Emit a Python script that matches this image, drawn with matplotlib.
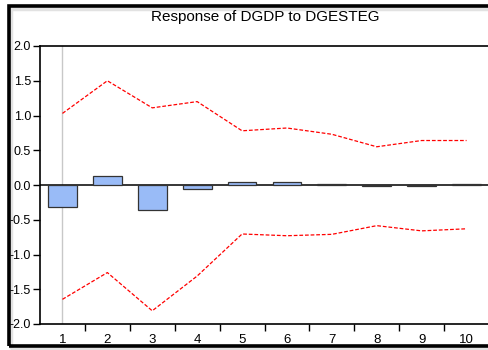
import numpy as np
import matplotlib.pyplot as plt
from matplotlib.patches import Rectangle

plt.rcParams['font.family'] = ['Liberation Sans', 'DejaVu Sans']

# impulse response of DGDP to a DGESTEG shock, with +/- 2 s.e. bands
periods = [1, 2, 3, 4, 5, 6, 7, 8, 9, 10]
response = [-0.31, 0.125, -0.355, -0.06, 0.04, 0.05, 0.012, -0.012, -0.008, 0.01]
upper = [1.03, 1.50, 1.11, 1.20, 0.78, 0.82, 0.73, 0.55, 0.64, 0.64]
lower = [-1.645, -1.26, -1.81, -1.31, -0.705, -0.73, -0.71, -0.585, -0.66, -0.63]
yticks = [-2.0, -1.5, -1.0, -0.5, 0.0, 0.5, 1.0, 1.5, 2.0]

fig = plt.figure(figsize=(4.89, 3.5), dpi=100)

# outer frame with a soft shadow
fig.patches.append(Rectangle((11 / 489, 1 - 349 / 350), 1.0, 340 / 350,
                             transform=fig.transFigure, facecolor='none',
                             edgecolor='#e2e2e2', linewidth=2.5, zorder=-2))
fig.patches.append(Rectangle((8.5 / 489, 1 - 345.5 / 350), 1.0, 339.5 / 350,
                             transform=fig.transFigure, facecolor='none',
                             edgecolor='black', linewidth=2.6, zorder=-1))

ax = fig.add_axes([40 / 489, 1 - 324 / 350, 449 / 489, 278 / 350])

ax.bar(periods, response, width=0.64, color='#99bbf7', edgecolor='#333333',
       linewidth=0.9, zorder=3)
ax.plot(periods, upper, color='red', linestyle=(0, (3, 1.5)), linewidth=0.9, zorder=4)
ax.plot(periods, lower, color='red', linestyle=(0, (3, 1.5)), linewidth=0.9, zorder=4)
ax.axhline(0, color='black', linewidth=1.1, zorder=2)
ax.axvline(1, color='#c8c8c8', linewidth=1, zorder=1)

ax.set_xlim(0.5, 10.5)
ax.set_ylim(-2.0, 2.0)
ax.set_yticks(yticks)
ax.set_yticklabels(['%.1f' % v for v in yticks], fontsize=9)

# labels sit on the periods, tick marks between them
ax.set_xticks(periods)
ax.set_xticklabels([str(p) for p in periods], fontsize=9.5)
ax.tick_params(axis='x', which='major', length=0, pad=7)
ax.set_xticks(np.arange(1.5, 10.5, 1.0), minor=True)
ax.tick_params(axis='x', which='minor', length=5, width=1, direction='out')
ax.tick_params(axis='y', length=5, width=1, direction='out', pad=1.5)

for side in ['left', 'top', 'bottom']:
    ax.spines[side].set_linewidth(1.2)
ax.spines['right'].set_color('#bbbbbb')

fig.text(265 / 489, 1 - 17 / 350, 'Response of DGDP to DGESTEG', fontsize=11,
         ha='center', va='center')

fig.savefig('out.png', dpi=100)
